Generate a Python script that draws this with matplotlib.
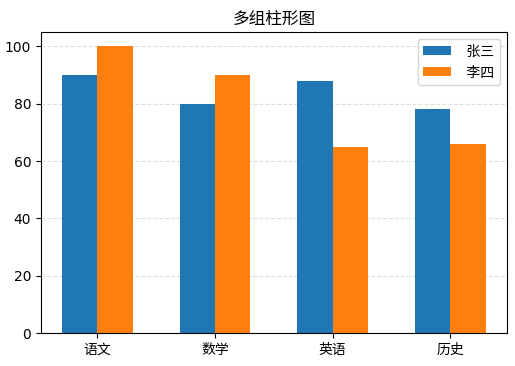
import matplotlib
matplotlib.use("Agg")
import matplotlib.pyplot as plt
import numpy as np

plt.rcParams['font.family'] = ['DejaVu Sans', 'Noto Sans CJK SC']
plt.rcParams['axes.unicode_minus'] = False

subjects = ['语文', '数学', '英语', '历史']
zhangsan = [90, 80, 88, 78]
lisi = [100, 90, 65, 66]

x = np.arange(len(subjects))
width = 0.3

fig = plt.figure(figsize=(5.15, 3.66), dpi=100)
ax = fig.add_axes([0.0796, 0.090, 0.9044, 0.8226])
ax.bar(x - width / 2, zhangsan, width, label=' 张三', color='#1f77b4')
ax.bar(x + width / 2, lisi, width, label=' 李四', color='#ff7f0e')
ax.set_xticks(x)
ax.set_xticklabels(subjects)
ax.set_ylim(0, 105)
ax.set_title('多组柱形图')
ax.grid(axis='y', linestyle='--', alpha=0.4)
ax.set_axisbelow(True)
ax.legend(loc='upper right')

fig.savefig('out.png', dpi=100)
